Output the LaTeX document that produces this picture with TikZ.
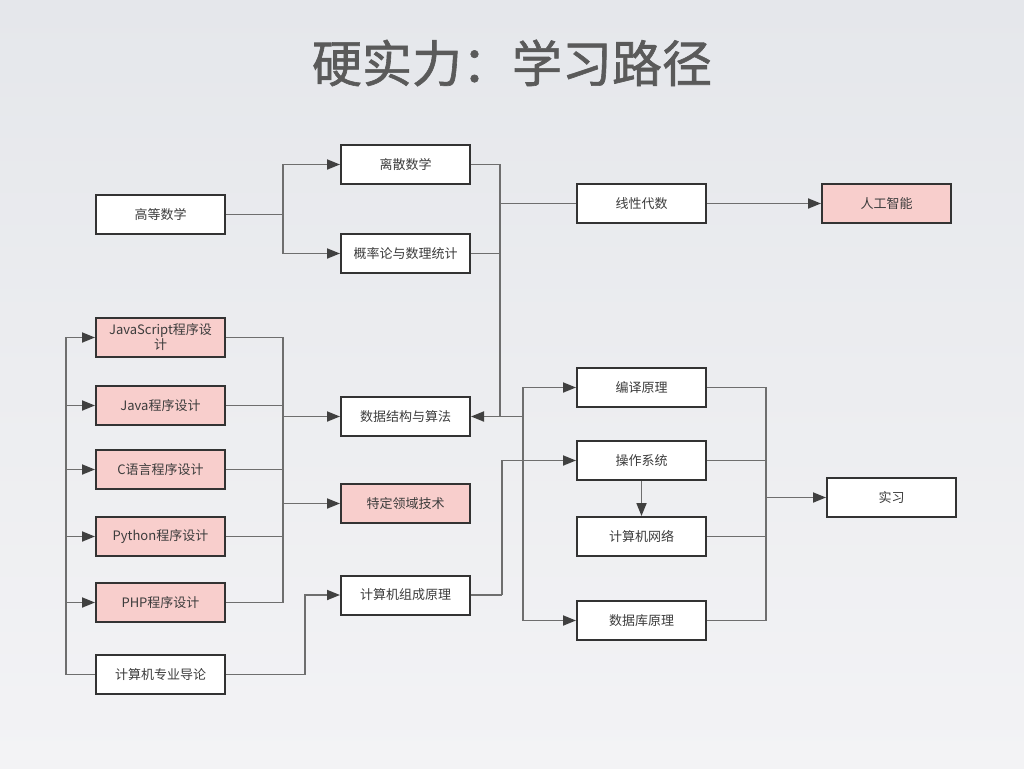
\documentclass[tikz,border=0pt]{standalone}
\usepackage{fontspec}
\setmainfont{Noto Sans CJK SC}
\newfontfamily\titlefont[FakeBold=1.2]{Noto Sans CJK SC}
\usetikzlibrary{arrows.meta}
\definecolor{bgtop}{HTML}{E5E7EB}
\definecolor{bgbot}{HTML}{F3F3F5}
\definecolor{boxc}{HTML}{333333}
\definecolor{pinkc}{HTML}{F8CECC}
\definecolor{linec}{HTML}{6E6E6E}
\definecolor{arrc}{HTML}{404040}
\definecolor{txt}{HTML}{3C3C3C}
\definecolor{titlec}{HTML}{5A5A5A}
\begin{document}
\begin{tikzpicture}[x=1pt,y=-1pt,
  box/.style={draw=boxc,line width=2pt,fill=white,minimum width=129pt,minimum height=39pt,inner sep=0pt,font=\fontsize{13}{15}\selectfont,text=txt,align=center},
  pinkbox/.style={box,fill=pinkc},
  conn/.style={draw=linec,line width=1.8pt},
  arr/.style={conn,-{Triangle[length=13pt,width=10pt,color=arrc]}},
  title/.style={font=\titlefont\fontsize{50}{58}\selectfont,text=titlec}]
\shade[top color=bgtop,bottom color=bgbot] (0,0) rectangle (1024,768);
\useasboundingbox (0,0) rectangle (1024,768);
\node[title] (t) at (512,63) {硬实力：学习路径};
% nodes
\node[box] (gs) at (160.5,214.5) {高等数学};
\node[box] (ls) at (405.5,164.5) {离散数学};
\node[box] (gl) at (405.5,253.5) {概率论与数理统计};
\node[box] (xx) at (641.5,203.5) {线性代数};
\node[pinkbox] (ai) at (886.5,203.5) {人工智能};
\node[pinkbox] (js) at (160.5,337.5) {JavaScript程序设\\计};
\node[pinkbox] (jv) at (160.5,405.5) {Java程序设计};
\node[pinkbox] (cl) at (160.5,469.5) {C语言程序设计};
\node[pinkbox] (py) at (160.5,536.5) {Python程序设计};
\node[pinkbox] (php) at (160.5,602.5) {PHP程序设计};
\node[box] (dl) at (160.5,674.5) {计算机专业导论};
\node[box] (ds) at (405.5,416.5) {数据结构与算法};
\node[pinkbox] (td) at (405.5,503.5) {特定领域技术};
\node[box] (zc) at (405.5,595) {计算机组成原理};
\node[box] (by) at (641.5,387.5) {编译原理};
\node[box] (os) at (641.5,460.5) {操作系统};
\node[box] (net) at (641.5,536.5) {计算机网络};
\node[box] (db) at (641.5,620.5) {数据库原理};
\node[box] (sx) at (891.5,497.5) {实习};
% coordinates
\coordinate (j1) at (283,214.5);
\coordinate (j2) at (500,416.5);
\coordinate (j3) at (523,416.5);
\coordinate (j4) at (66,674.5);
\coordinate (j5) at (283,416.5);
\coordinate (j6) at (283,503.5);
\coordinate (j7) at (283,602.5);
\coordinate (j8) at (766,497.5);
\coordinate (j9) at (305,674.5);
\coordinate (j10) at (502,595);
% connectors
\draw[conn] (gs.east) -- (j1);
\draw[arr] (j1) |- (ls.west);
\draw[arr] (j1) |- (gl.west);
\draw[conn] (ls.east) -| (j2);
\draw[conn] (gl.east) -| (j2);
\draw[conn] (xx.west) -| (j2);
\draw[arr] (xx.east) -- (ai.west);
\draw[arr] (j3) -- (ds.east);
\draw[arr] (j3) |- (by.west);
\draw[arr] (j3) |- (db.west);
\draw[conn] (dl.west) -- (j4);
\draw[arr] (j4) |- (js.west);
\draw[arr] (j4) |- (jv.west);
\draw[arr] (j4) |- (cl.west);
\draw[arr] (j4) |- (py.west);
\draw[arr] (j4) |- (php.west);
\draw[conn] (js.east) -| (j7);
\draw[conn] (jv.east) -- (jv.east -| j5);
\draw[conn] (cl.east) -- (cl.east -| j5);
\draw[conn] (py.east) -- (py.east -| j5);
\draw[conn] (php.east) -- (j7);
\draw[arr] (j5) -- (ds.west);
\draw[arr] (j6) -- (td.west);
\draw[conn] (dl.east) -- (j9);
\draw[arr] (j9) |- (zc.west);
\draw[conn] (zc.east) -- (j10);
\draw[arr] (j10) |- (os.west);
\draw[arr] (os.south) -- (net.north);
\draw[conn] (by.east) -| (j8);
\draw[conn] (db.east) -| (j8);
\draw[conn] (os.east) -- (os.east -| j8);
\draw[conn] (net.east) -- (net.east -| j8);
\draw[arr] (j8) -- (sx.west);
\end{tikzpicture}
\end{document}
